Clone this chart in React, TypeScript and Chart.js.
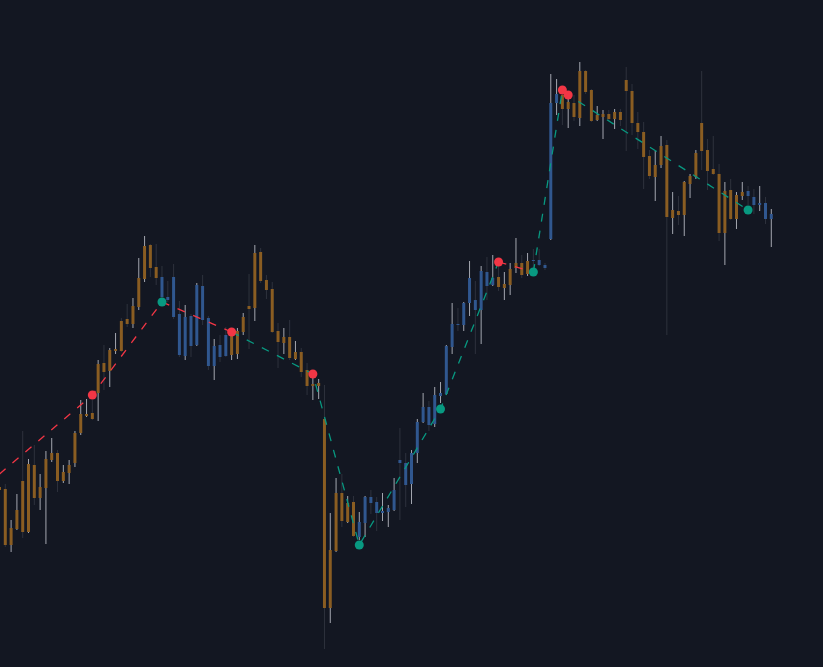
import React, { useEffect, useRef } from "react";
import { Chart, registerables } from "chart.js";

Chart.register(...registerables);

// Bar index of the first candle (it is cut by the left edge)
const FIRST_INDEX = -1;

const open = [
  1180, 1178, 1122, 1138, 1186, 1135, 1202, 1169, 1179, 1207, 1214, 1186, 1194, 1204, 1234, 1251, 1254, 1274, 1304, 1296,
  1316, 1346, 1348, 1343, 1360, 1388, 1422, 1400, 1390, 1370, 1390, 1353, 1311, 1351, 1322, 1381, 1349, 1301, 1322, 1332,
  1312, 1313, 1335, 1361, 1359, 1415, 1387, 1378, 1336, 1324, 1330, 1308, 1315, 1297, 1281, 1281, 1248, 1059, 1116, 1174,
  1145, 1165, 1130, 1144, 1170, 1165, 1154, 1155, 1157, 1207, 1204, 1183, 1214, 1245, 1260, 1243, 1271, 1273, 1320, 1343,
  1342, 1364, 1367, 1357, 1395, 1382, 1390, 1379, 1382, 1399, 1404, 1393, 1407, 1407, 1402, 1428, 1564, 1572, 1558, 1564,
  1549, 1596, 1577, 1547, 1550, 1553, 1548, 1555, 1587, 1576, 1544, 1535, 1511, 1490, 1502, 1522, 1449, 1456, 1452, 1483,
  1490, 1544, 1517, 1498, 1493, 1434, 1477, 1448, 1471, 1476, 1470, 1462, 1464, 1448,
];
const high = [
  1182, 1183, 1147, 1173, 1236, 1208, 1222, 1193, 1216, 1229, 1217, 1202, 1207, 1236, 1267, 1268, 1267, 1307, 1322, 1319,
  1334, 1349, 1363, 1369, 1409, 1431, 1423, 1423, 1401, 1386, 1403, 1366, 1362, 1353, 1384, 1392, 1351, 1328, 1332, 1340,
  1337, 1339, 1354, 1393, 1422, 1419, 1392, 1385, 1344, 1339, 1347, 1326, 1319, 1304, 1294, 1288, 1282, 1154, 1189, 1193,
  1171, 1171, 1155, 1171, 1177, 1170, 1174, 1162, 1189, 1239, 1214, 1217, 1248, 1274, 1266, 1280, 1285, 1322, 1364, 1359,
  1365, 1406, 1386, 1401, 1410, 1412, 1404, 1395, 1404, 1429, 1412, 1414, 1418, 1418, 1404, 1593, 1588, 1578, 1572, 1572,
  1605, 1597, 1578, 1561, 1557, 1557, 1558, 1558, 1600, 1583, 1555, 1545, 1517, 1516, 1531, 1527, 1475, 1471, 1486, 1493,
  1517, 1596, 1528, 1531, 1503, 1485, 1488, 1475, 1485, 1481, 1478, 1481, 1470, 1458,
];
const low = [
  1175, 1120, 1115, 1137, 1129, 1134, 1162, 1157, 1123, 1205, 1175, 1184, 1183, 1200, 1232, 1250, 1247, 1246, 1277, 1280,
  1313, 1315, 1340, 1339, 1357, 1385, 1390, 1382, 1367, 1365, 1348, 1310, 1307, 1310, 1321, 1342, 1297, 1287, 1305, 1310,
  1307, 1308, 1332, 1318, 1346, 1384, 1368, 1334, 1299, 1313, 1307, 1307, 1290, 1272, 1267, 1268, 1018, 1044, 1115, 1140,
  1144, 1130, 1127, 1130, 1153, 1136, 1146, 1140, 1156, 1147, 1160, 1163, 1204, 1244, 1236, 1240, 1264, 1272, 1313, 1336,
  1336, 1351, 1313, 1323, 1367, 1381, 1376, 1367, 1372, 1394, 1389, 1391, 1399, 1401, 1397, 1427, 1552, 1542, 1539, 1546,
  1541, 1573, 1545, 1546, 1528, 1546, 1538, 1541, 1516, 1532, 1518, 1478, 1488, 1466, 1499, 1332, 1433, 1442, 1431, 1469,
  1488, 1497, 1477, 1492, 1426, 1402, 1447, 1438, 1467, 1462, 1453, 1456, 1443, 1420,
];
const close = [
  1177, 1122, 1139, 1157, 1135, 1203, 1169, 1180, 1208, 1214, 1186, 1195, 1202, 1234, 1253, 1253, 1248, 1303, 1295, 1317,
  1318, 1316, 1343, 1361, 1389, 1421, 1399, 1389, 1370, 1367, 1350, 1312, 1350, 1321, 1382, 1347, 1301, 1321, 1310, 1311,
  1331, 1336, 1350, 1358, 1414, 1386, 1377, 1335, 1325, 1330, 1309, 1315, 1295, 1281, 1283, 1284, 1059, 1117, 1174, 1146,
  1164, 1131, 1145, 1170, 1164, 1154, 1156, 1159, 1177, 1204, 1182, 1214, 1245, 1260, 1242, 1272, 1274, 1321, 1343, 1342,
  1364, 1389, 1357, 1396, 1381, 1389, 1380, 1383, 1398, 1404, 1392, 1406, 1406, 1402, 1399, 1564, 1573, 1558, 1565, 1550,
  1596, 1575, 1546, 1552, 1553, 1548, 1555, 1547, 1576, 1544, 1535, 1510, 1491, 1502, 1521, 1450, 1457, 1452, 1485, 1491,
  1514, 1516, 1496, 1493, 1434, 1476, 1448, 1472, 1475, 1471, 1462, 1464, 1448, 1453,
];
// trend state per candle: "u" (orange) / "d" (blue)
const trend = [
  "u","u","u","u","u","u","u","u","u","u","u","u","u","u","u","u","u","u","u","u",
  "u","u","u","u","u","u","u","u","d","d","d","d","d","d","d","d","d","d","d","d",
  "u","u","u","u","u","u","u","u","u","u","u","u","u","u","u","u","u","u","u","u",
  "u","u","d","d","d","d","d","d","d","d","d","d","d","d","d","d","d","d","d","d",
  "d","d","d","d","d","d","u","u","u","u","u","u","d","d","d","d","d","u","u","u",
  "u","u","u","u","u","u","u","u","u","u","u","u","u","u","u","u","u","u","u","u",
  "u","u","u","u","u","u","u","u","u","d","d","d","d","d",
];

// Pivot line
const pivotIndex = [-1, 15, 27, 39, 53, 61, 75, 85, 91, 96, 97, 128];
const pivotPrice = [1193, 1272, 1365, 1335, 1293, 1122, 1258, 1405, 1395, 1577, 1572, 1457];
const pivotKind = ["", "high", "low", "high", "high", "low", "low", "high", "low", "high", "high", "low"];
const segmentKind = ["high", "high", "high", "low", "low", "low", "low", "high", "low", "low", "low"];

const BG = "#131722";
const ORANGE = "#8a5d22";
const BLUE = "#30578f";
const WICK_UP = "#a4a7b0";
const WICK_DOWN = "#2e323d";
const RED = "#f23645";
const TEAL = "#089981";

const X_MIN = -0.913;
const X_MAX = 140.91;

export default function App() {
  const ref = useRef<HTMLCanvasElement | null>(null);

  useEffect(() => {
    document.body.style.margin = "0";
    document.body.style.background = BG;
    const canvas = ref.current;
    if (!canvas) return;
    const idx = open.map((_, i) => FIRST_INDEX + i);
    const wickData = idx.map((x, i) => ({ x, y: [low[i], high[i]] }));
    const bodyData = idx.map((x, i) => ({ x, y: [open[i], close[i]] }));
    const lineData = pivotIndex.map((x, i) => ({ x, y: pivotPrice[i] }));
    const kindColor = (k: string) => (k === "high" ? RED : TEAL);

    const chart = new Chart(canvas, {
      type: "bar",
      data: {
        datasets: [
          {
            type: "line",
            data: lineData as any,
            borderWidth: 1.3,
            borderDash: [8, 9],
            tension: 0,
            fill: false,
            segment: {
              borderColor: (ctx: any) => kindColor(segmentKind[ctx.p0DataIndex]),
            },
            borderColor: TEAL,
            pointRadius: pivotKind.map((k) => (k ? 4.5 : 0)),
            pointBackgroundColor: pivotKind.map((k) => kindColor(k)),
            pointBorderWidth: 0,
            pointHoverRadius: 0,
            order: 0,
          } as any,
          {
            type: "bar",
            data: bodyData as any,
            backgroundColor: trend.map((t) => (t === "u" ? ORANGE : BLUE)),
            barThickness: 3,
            grouped: false,
            borderWidth: 0,
            inflateAmount: 0,
            order: 1,
          } as any,
          {
            type: "bar",
            data: wickData as any,
            backgroundColor: close.map((c, i) => (c > open[i] ? WICK_UP : WICK_DOWN)),
            barThickness: 1,
            grouped: false,
            borderWidth: 0,
            inflateAmount: 0,
            order: 2,
          } as any,
        ],
      },
      options: {
        responsive: false,
        maintainAspectRatio: false,
        animation: false,
        events: [],
        layout: { padding: 0, autoPadding: false },
        plugins: { legend: { display: false }, tooltip: { enabled: false } },
        scales: {
          x: { type: "linear", min: X_MIN, max: X_MAX, display: false, offset: false },
          y: { type: "linear", min: 1000, max: 1667, display: false },
        },
      },
    });
    return () => chart.destroy();
  }, []);

  return (
    <div style={{ width: 823, height: 667, background: BG }}>
      <canvas ref={ref} width={823} height={667} style={{ display: "block" }} />
    </div>
  );
}
